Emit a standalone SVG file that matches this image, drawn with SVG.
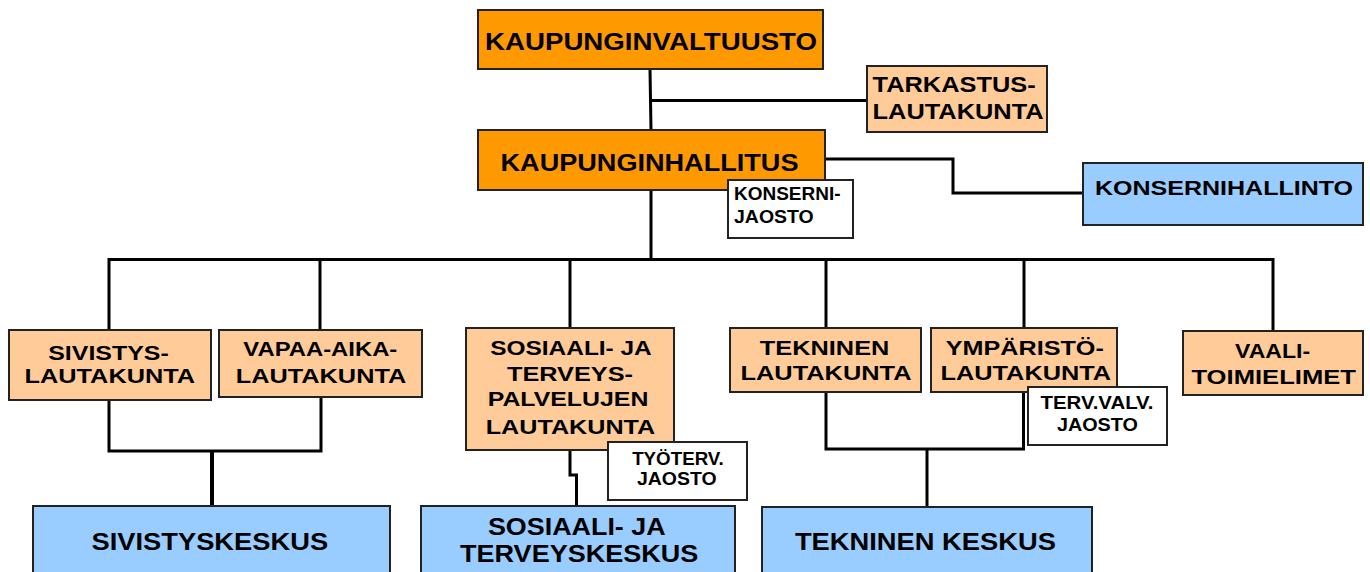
<svg xmlns="http://www.w3.org/2000/svg" width="1370" height="572" viewBox="0 0 1370 572">
<style>
.box{stroke:#222;stroke-width:2}
.o{fill:#FF9900}
.lo{fill:#FFCC99}
.b{fill:#99CCFF}
.w{fill:#FFFFFF}
.c{fill:none;stroke:#000;stroke-width:3}
text{font-family:"Liberation Sans",Arial,sans-serif;font-weight:bold;fill:#000}
.f24{font-size:24px}
.f23{font-size:23px}
.f22{font-size:22px}
.f21{font-size:21px}
.f18{font-size:17.5px}
.m{text-anchor:middle}
</style>
<rect width="1370" height="572" fill="#fff"/>
<g id="connectors">
<path class="c" d="M650,69 L651,130"/>
<path class="c" d="M651,100.5 H867"/>
<path class="c" d="M825,159 H953 V193 H1083"/>
<path class="c" d="M651,190 V259.5"/>
<path class="c" d="M109,330 V259.5 H1273 V331"/>
<path class="c" d="M320,259.5 V330"/>
<path class="c" d="M570,259.5 V328"/>
<path class="c" d="M826,259.5 V328"/>
<path class="c" d="M1024,259.5 V328"/>
<path class="c" d="M109,400 V451 H321 V397"/>
<path class="c" style="stroke-width:4" d="M212,451 V506"/>
<path class="c" d="M570,450 V475 H576.5 V506"/>
<path class="c" d="M826,392 V449 H1023.5 V392"/>
<path class="c" d="M927,449 V507"/>
</g>
<g id="kaupunginvaltuusto">
<rect class="box o" x="478" y="10" width="345" height="59"/>
<text class="f24 m" x="651" y="50" textLength="332" lengthAdjust="spacingAndGlyphs">KAUPUNGINVALTUUSTO</text>
</g>
<g id="tarkastuslautakunta">
<rect class="box lo" x="867" y="66" width="180" height="66"/>
<text class="f22" x="872.6" y="91.7" textLength="163" lengthAdjust="spacingAndGlyphs">TARKASTUS-</text>
<text class="f22" x="872.6" y="119" textLength="171" lengthAdjust="spacingAndGlyphs">LAUTAKUNTA</text>
</g>
<g id="kaupunginhallitus">
<rect class="box o" x="478" y="130" width="347" height="60"/>
<text class="f24 m" x="649.5" y="170.7" textLength="298" lengthAdjust="spacingAndGlyphs">KAUPUNGINHALLITUS</text>
</g>
<g id="konsernijaosto">
<rect class="box w" x="728" y="180" width="125" height="58"/>
<text class="f18" x="734" y="200" textLength="106.5" lengthAdjust="spacingAndGlyphs">KONSERNI-</text>
<text class="f18" x="734" y="222.7" textLength="79.7" lengthAdjust="spacingAndGlyphs">JAOSTO</text>
</g>
<g id="konsernihallinto">
<rect class="box b" x="1083" y="163" width="280" height="62"/>
<text class="f21 m" x="1224" y="195" textLength="258" lengthAdjust="spacingAndGlyphs">KONSERNIHALLINTO</text>
</g>
<g id="sivistyslautakunta">
<rect class="box lo" x="9" y="330" width="202" height="70"/>
<text class="f21 m" x="108.5" y="360" textLength="120.5" lengthAdjust="spacingAndGlyphs">SIVISTYS-</text>
<text class="f21 m" x="109.8" y="382.7" textLength="170.5" lengthAdjust="spacingAndGlyphs">LAUTAKUNTA</text>
</g>
<g id="vapaa-aikalautakunta">
<rect class="box lo" x="219" y="330" width="203" height="67"/>
<text class="f21 m" x="320.3" y="356" textLength="154" lengthAdjust="spacingAndGlyphs">VAPAA-AIKA-</text>
<text class="f21 m" x="321" y="382.7" textLength="170.5" lengthAdjust="spacingAndGlyphs">LAUTAKUNTA</text>
</g>
<g id="sosiaalilautakunta">
<rect class="box lo" x="466" y="328" width="208" height="122"/>
<text class="f21 m" x="571" y="355" textLength="161.6" lengthAdjust="spacingAndGlyphs">SOSIAALI- JA</text>
<text class="f21 m" x="570" y="380.7" textLength="126" lengthAdjust="spacingAndGlyphs">TERVEYS-</text>
<text class="f21 m" x="568" y="406" textLength="160.7" lengthAdjust="spacingAndGlyphs">PALVELUJEN</text>
<text class="f21 m" x="570.5" y="434.3" textLength="169.6" lengthAdjust="spacingAndGlyphs">LAUTAKUNTA</text>
</g>
<g id="tyoterveysjaosto">
<rect class="box w" x="608" y="442" width="139" height="58"/>
<text class="f18 m" x="678" y="465" textLength="91.7" lengthAdjust="spacingAndGlyphs">TYÖTERV.</text>
<text class="f18 m" x="676.8" y="485" textLength="79.7" lengthAdjust="spacingAndGlyphs">JAOSTO</text>
</g>
<g id="teknineenlautakunta">
<rect class="box lo" x="730" y="328" width="191" height="64"/>
<text class="f21 m" x="824.6" y="355" textLength="129.5" lengthAdjust="spacingAndGlyphs">TEKNINEN</text>
<text class="f21 m" x="826" y="380" textLength="171" lengthAdjust="spacingAndGlyphs">LAUTAKUNTA</text>
</g>
<g id="ymparistolautakunta">
<rect class="box lo" x="931" y="328" width="186" height="64"/>
<text class="f21 m" x="1024.8" y="355" textLength="158" lengthAdjust="spacingAndGlyphs">YMPÄRISTÖ-</text>
<text class="f21 m" x="1025.8" y="380" textLength="170.5" lengthAdjust="spacingAndGlyphs">LAUTAKUNTA</text>
</g>
<g id="tervvalvjaosto">
<rect class="box w" x="1028" y="387" width="139" height="58"/>
<text class="f18 m" x="1097" y="409" textLength="113" lengthAdjust="spacingAndGlyphs">TERV.VALV.</text>
<text class="f18 m" x="1097.4" y="430.7" textLength="81" lengthAdjust="spacingAndGlyphs">JAOSTO</text>
</g>
<g id="vaalitoimielimet">
<rect class="box lo" x="1183" y="331" width="180" height="64"/>
<text class="f21 m" x="1272.6" y="358.3" textLength="75" lengthAdjust="spacingAndGlyphs">VAALI-</text>
<text class="f21 m" x="1273.7" y="384.3" textLength="164.5" lengthAdjust="spacingAndGlyphs">TOIMIELIMET</text>
</g>
<g id="sivistyskeskus">
<rect class="box b" x="33" y="506" width="357" height="80"/>
<text class="f23 m" x="209.8" y="550" textLength="236.6" lengthAdjust="spacingAndGlyphs">SIVISTYSKESKUS</text>
</g>
<g id="sosiaalijaterveyskeskus">
<rect class="box b" x="421" y="506" width="314" height="80"/>
<text class="f23 m" x="576.8" y="535" textLength="177.7" lengthAdjust="spacingAndGlyphs">SOSIAALI- JA</text>
<text class="f23 m" x="579.2" y="561.7" textLength="238.3" lengthAdjust="spacingAndGlyphs">TERVEYSKESKUS</text>
</g>
<g id="tekninenkeskus">
<rect class="box b" x="762" y="507" width="330" height="80"/>
<text class="f23 m" x="925.4" y="550" textLength="261" lengthAdjust="spacingAndGlyphs">TEKNINEN KESKUS</text>
</g>
</svg>
